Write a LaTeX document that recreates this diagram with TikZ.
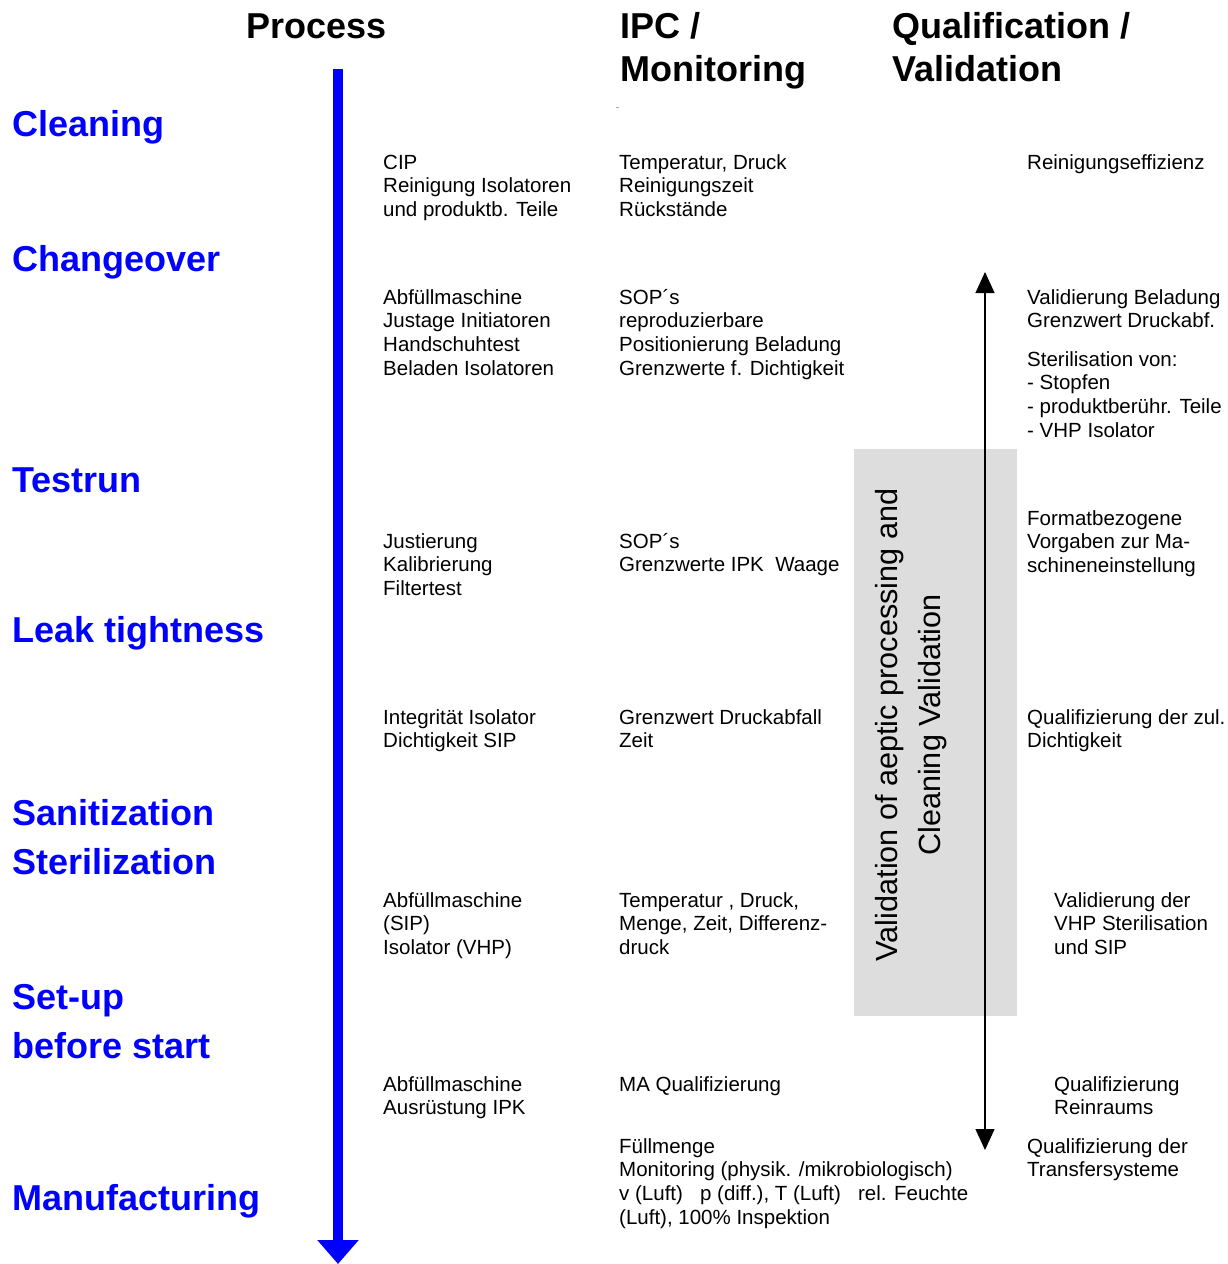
\documentclass[tikz,border=0pt]{standalone}
\usepackage{fontspec}
\setmainfont{Liberation Sans}
\usetikzlibrary{arrows.meta}
\definecolor{procblue}{RGB}{0,0,255}
\definecolor{boxgray}{RGB}{221,221,221}
\begin{document}
% multi-line text blocks are placed by the baseline of their last line
\begin{tikzpicture}[x=1pt,y=-1pt,
  body/.style={font=\fontsize{20.5}{23.6}\selectfont, align=left, anchor=base west, inner sep=0pt},
  stage/.style={font=\fontsize{36}{40}\selectfont\bfseries, text=procblue, anchor=base west, inner sep=0pt},
  colhead/.style={font=\fontsize{36}{40}\selectfont\bfseries, anchor=base west, inner sep=0pt},
  vlabel/.style={font=\fontsize{30.6}{43}\selectfont, align=center, rotate=90, inner sep=0pt}]
\useasboundingbox (0,0) rectangle (1228,1264);

% column headings
\node[colhead] (hproc) at (246,38) {Process};
\node[colhead] (hipc1) at (620,38) {IPC /};
\node[colhead] (hipc2) at (620,81) {Monitoring};
\node[colhead] (hqual1) at (892,38) {Qualification /};
\node[colhead] (hqual2) at (892,81) {Validation};
\fill[gray!70] (616,106.5) rectangle (619,107.5);

% process stages
\node[stage] (s1) at (12,136) {Cleaning};
\node[stage] (s2) at (12,271) {Changeover};
\node[stage] (s3) at (12,492) {Testrun};
\node[stage] (s4) at (12,642) {Leak tightness};
\node[stage] (s5a) at (12,825) {Sanitization};
\node[stage] (s5b) at (12,874) {Sterilization};
\node[stage] (s6a) at (12,1009) {Set-up};
\node[stage] (s6b) at (12,1058) {before start};
\node[stage] (s7) at (12,1210) {Manufacturing};

% process time line
\coordinate (tstart) at (338,69);
\coordinate (tend) at (338,1264);
\draw[procblue, line width=10pt, -{Triangle[length=24pt,width=40pt]}] (tstart) -- (tend);

% validation bracket
\node[fill=boxgray, minimum width=163pt, minimum height=567pt, inner sep=0pt] (vbox) at (935.5,732.5) {};
\coordinate (vtop) at (985,272);
\coordinate (vbot) at (985,1150);
\draw[line width=1.2pt, {Triangle[length=21pt,width=19pt]}-{Triangle[length=21pt,width=19pt]}] (vtop) -- (vbot);
\node[vlabel] (vtext) at (911,725) {Validation of aeptic processing and\\Cleaning Validation};

% Cleaning
\node[body] (p1) at (383,216.5) {CIP\\Reinigung Isolatoren\\und produktb. Teile};
\node[body] (i1) at (619,216.5) {Temperatur, Druck\\Reinigungszeit\\Rückstände};
\node[body] (q1) at (1027,169.3) {Reinigungseffizienz};

% Changeover
\node[body] (p2) at (383,375.1) {Abfüllmaschine\\Justage Initiatoren\\Handschuhtest\\Beladen Isolatoren};
\node[body] (i2) at (619,375.1) {SOP´s\\reproduzierbare\\Positionierung Beladung\\Grenzwerte f. Dichtigkeit};
\node[body] (q2a) at (1027,327.9) {Validierung Beladung\\Grenzwert Druckabf.};
\node[body] (q2b) at (1027,437.1) {Sterilisation von:\\- Stopfen\\- produktberühr. Teile\\- VHP Isolator};

% Testrun
\node[body] (p3) at (383,595.5) {Justierung\\Kalibrierung\\Filtertest};
\node[body] (i3) at (619,571.9) {SOP´s\\Grenzwerte IPK\ \ Waage};
\node[body] (q3) at (1027,572.5) {Formatbezogene\\Vorgaben zur Ma-\\schineneinstellung};

% Leak tightness
\node[body] (p4) at (383,747.9) {Integrität Isolator\\Dichtigkeit SIP};
\node[body] (i4) at (619,747.9) {Grenzwert Druckabfall\\Zeit};
\node[body] (q4) at (1027,747.9) {Qualifizierung der zul.\\Dichtigkeit};

% Sanitization / Sterilization
\node[body] (p5) at (383,954.5) {Abfüllmaschine\\(SIP)\\Isolator (VHP)};
\node[body] (i5) at (619,954.5) {Temperatur , Druck,\\Menge, Zeit, Differenz-\\druck};
\node[body] (q5) at (1054,954.5) {Validierung der\\VHP Sterilisation\\und SIP};

% Set-up before start
\node[body] (p6) at (383,1114.9) {Abfüllmaschine\\Ausrüstung IPK};
\node[body] (i6) at (619,1091.3) {MA Qualifizierung};
\node[body] (q6) at (1054,1114.9) {Qualifizierung\\Reinraums};

% Manufacturing
\node[body] (i7) at (619,1224.1) {Füllmenge\\Monitoring (physik. /mikrobiologisch)\\v (Luft)\ \ \ p (diff.), T (Luft)\ \ \ rel. Feuchte\\(Luft), 100\% Inspektion};
\node[body] (q7) at (1027,1176.9) {Qualifizierung der\\Transfersysteme};
\end{tikzpicture}
\end{document}
